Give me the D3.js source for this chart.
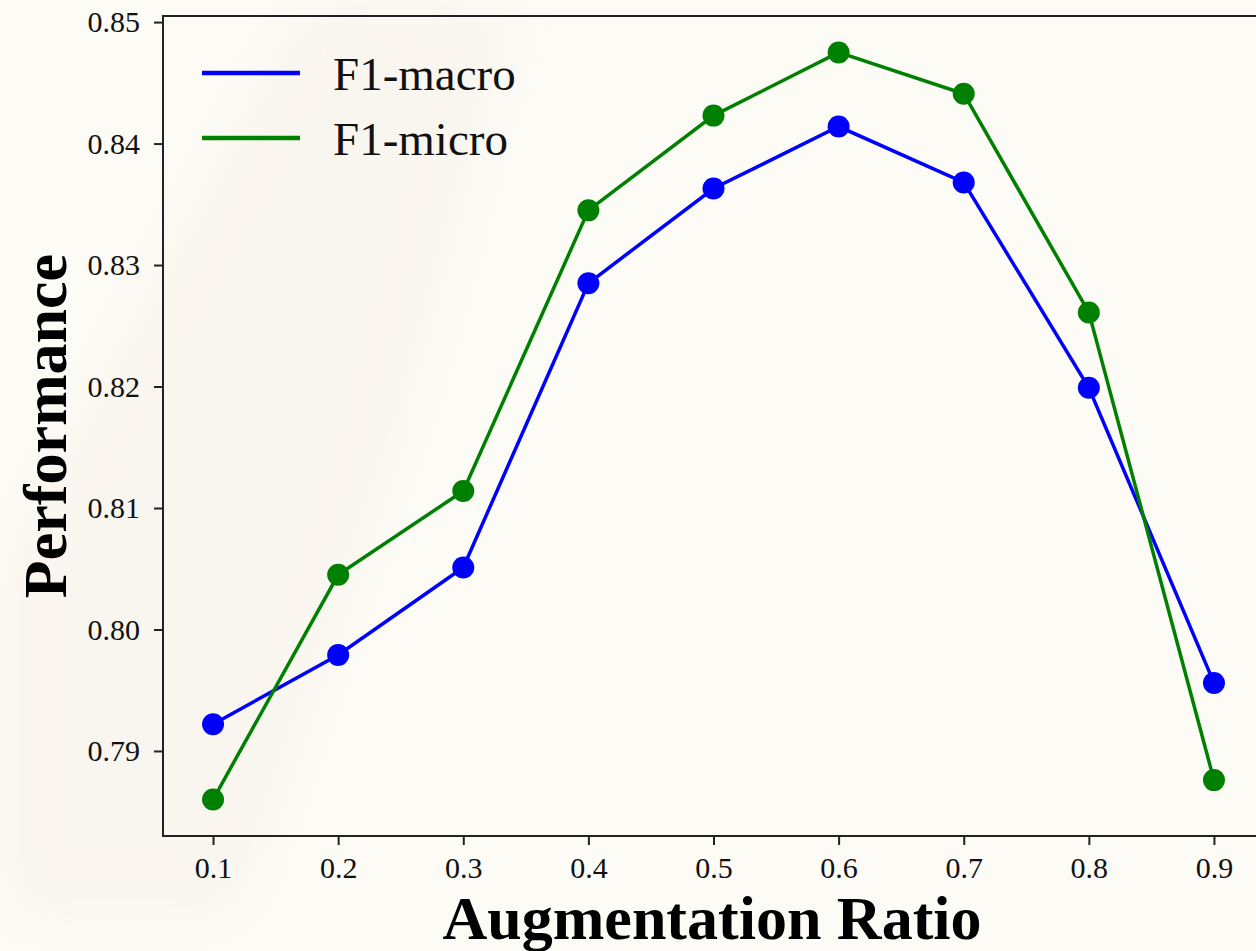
<!DOCTYPE html>
<html>
<head>
<meta charset="utf-8">
<script src="https://cdn.jsdelivr.net/npm/d3@7"></script>
<style>
  body { margin: 0; background: #fdfbf6; }
  svg { display: block; }
</style>
</head>
<body>
<svg id="chart" width="1256" height="951"></svg>
<script>
const ratios = [0.1, 0.2, 0.3, 0.4, 0.5, 0.6, 0.7, 0.8, 0.9];
const f1Macro = [0.7922, 0.7979, 0.8051, 0.8285, 0.8363, 0.8414, 0.8368, 0.8199, 0.7956];
const f1Micro = [0.7860, 0.8045, 0.8114, 0.8345, 0.8423, 0.8475, 0.8441, 0.8261, 0.7876];
const yTicks = [0.79, 0.80, 0.81, 0.82, 0.83, 0.84, 0.85];
const seriesNames = ["F1-macro", "F1-micro"];

const series = [
  { name: seriesNames[0], values: f1Macro, color: "#0000ff" },
  { name: seriesNames[1], values: f1Micro, color: "#008000" },
];

let svg = d3.select("#chart"),
  plotLeft = 163,
  plotRight = 1264,
  plotTop = 16,
  plotBottom = 836;

// background with faint diagonal band
const defs = svg.append("defs");
defs.append("filter").attr("id", "blur")
  .attr("x", "-50%").attr("y", "-50%").attr("width", "200%").attr("height", "200%")
  .append("feGaussianBlur").attr("stdDeviation", 30);
svg.append("rect").attr("width", 1256).attr("height", 951).attr("fill", "#fdfbf6");
svg.append("path")
  .attr("d", "M0,560 L300,0 L520,0 L420,380 L240,920 L0,920 Z")
  .attr("fill", "#f9f6ef")
  .attr("filter", "url(#blur)");

let x = d3.scaleLinear().domain([0.06, 0.94]).range([plotLeft, plotRight]);
let y = d3.scaleLinear().domain([0.783, 0.8505]).range([plotBottom, plotTop]);

const font = "'Liberation Serif', 'Times New Roman', serif";

// axes
let gx = svg.append("g")
  .attr("transform", "translate(0," + plotBottom + ")")
  .call(d3.axisBottom(x).tickValues(ratios).tickSize(9).tickPadding(12).tickFormat(d3.format(".1f")));
let gy = svg.append("g")
  .attr("transform", "translate(" + plotLeft + ",0)")
  .call(d3.axisLeft(y).tickValues(yTicks).tickSize(9).tickPadding(14).tickFormat(d3.format(".2f")));

[gx, gy].forEach((g) => {
  g.select(".domain").remove();
  g.selectAll(".tick line").attr("stroke", "#222").attr("stroke-width", 2);
  g.selectAll(".tick text")
    .attr("fill", "#111")
    .attr("font-family", font)
    .attr("font-size", "30px");
});

// spines
svg.append("rect")
  .attr("x", plotLeft).attr("y", plotTop)
  .attr("width", plotRight - plotLeft).attr("height", plotBottom - plotTop)
  .attr("fill", "none").attr("stroke", "#222").attr("stroke-width", 2);

// lines and markers
let line = d3.line()
  .x((d, i) => x(ratios[i]))
  .y((d) => y(d));

series.forEach((s, k) => {
  svg.append("path")
    .datum(s.values)
    .attr("fill", "none")
    .attr("stroke", s.color)
    .attr("stroke-width", 3.5)
    .attr("d", line);
  svg.selectAll(".dot" + k)
    .data(s.values)
    .enter()
    .append("circle")
    .attr("class", "dot" + k)
    .attr("cx", (d, i) => x(ratios[i]))
    .attr("cy", (d) => y(d))
    .attr("r", 11)
    .attr("fill", s.color);
});

// legend
series.forEach((s, i) => {
  let ly = 73 + i * 65;
  svg.append("line")
    .attr("x1", 202).attr("x2", 300)
    .attr("y1", ly).attr("y2", ly)
    .attr("stroke", s.color).attr("stroke-width", 4.5);
  svg.append("text")
    .attr("x", 333).attr("y", ly + 17)
    .attr("font-family", font)
    .attr("font-size", "47px")
    .attr("fill", "#111")
    .text(s.name);
});

// axis titles
svg.append("text")
  .attr("x", 712).attr("y", 939)
  .attr("text-anchor", "middle")
  .attr("font-family", font)
  .attr("font-weight", "bold")
  .attr("font-size", "62px")
  .attr("fill", "#000")
  .text("Augmentation Ratio");

svg.append("text")
  .attr("transform", "translate(66,426) rotate(-90)")
  .attr("text-anchor", "middle")
  .attr("font-family", font)
  .attr("font-weight", "bold")
  .attr("font-size", "62px")
  .attr("fill", "#000")
  .text("Performance");
</script>
</body>
</html>
